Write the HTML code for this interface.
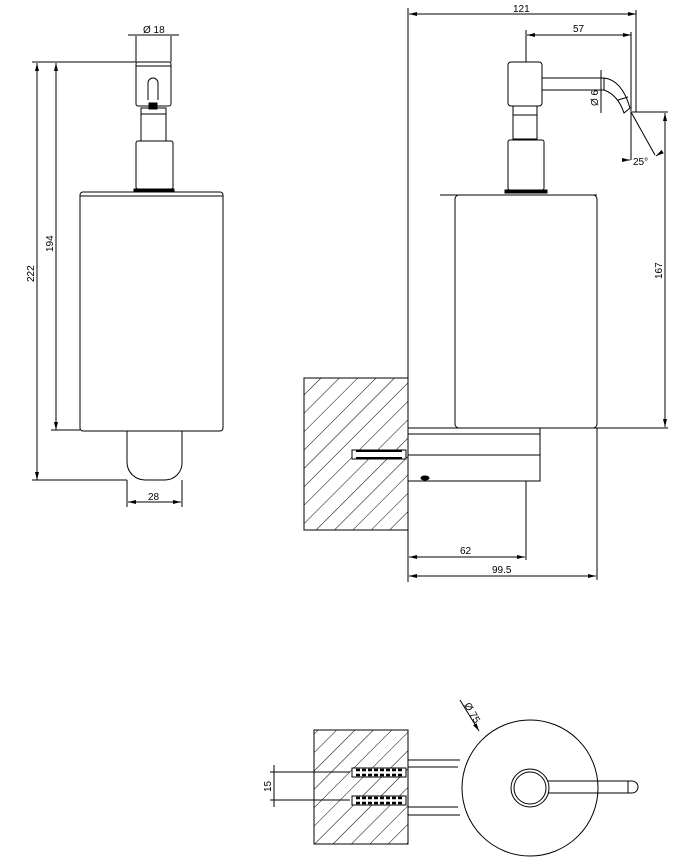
<!DOCTYPE html>
<html><head><style>body{margin:0;background:#fff}svg{display:block}text{font-family:"Liberation Sans",sans-serif;font-size:10px;fill:#000}</style></head><body>
<svg width="686" height="864" viewBox="0 0 686 864" xmlns="http://www.w3.org/2000/svg">
<defs>
<pattern id="h" patternUnits="userSpaceOnUse" width="13" height="13" patternTransform="rotate(45)"><line x1="0" y1="0" x2="0" y2="13" stroke="#000" stroke-width="1"/></pattern>
<marker id="a" markerWidth="8" markerHeight="6" refX="8" refY="3" orient="auto-start-reverse"><path d="M0,1 L8,3 L0,5z" fill="#000"/></marker>
</defs>
<g fill="none" stroke="#000" stroke-width="1">
<!-- LEFT VIEW -->
<rect x="136" y="62" width="35" height="44" rx="2"/>
<line x1="136" y1="66" x2="171" y2="66"/>
<path d="M148,100 V83 a5,5 0 0 1 10,0 V100"/>
<rect x="149" y="103" width="8" height="6" fill="#000"/>
<rect x="141" y="108" width="25" height="33"/>
<line x1="141" y1="114" x2="166" y2="114"/>
<rect x="136" y="141" width="37" height="48" rx="2"/>
<rect x="134" y="189" width="40" height="3" fill="#000"/>
<rect x="80" y="192" width="143" height="239" rx="3"/>
<line x1="80" y1="196" x2="223" y2="196"/>
<path d="M127,431 V462 a18,18 0 0 0 18,18 H165 a17,17 0 0 0 17,-17 V431"/>
<!-- dims left -->
<line x1="136" y1="36" x2="136" y2="62"/><line x1="171" y1="36" x2="171" y2="62"/>
<line x1="128" y1="35" x2="179" y2="35"/>
<line x1="32" y1="62" x2="136" y2="62"/>
<line x1="37" y1="480" x2="37" y2="63" marker-end="url(#a)" marker-start="url(#a)"/>
<line x1="56" y1="430" x2="56" y2="63" marker-end="url(#a)" marker-start="url(#a)"/>
<line x1="32" y1="480" x2="127" y2="480"/>
<line x1="51" y1="430" x2="80" y2="430"/>
<line x1="127" y1="480" x2="127" y2="507"/><line x1="182" y1="480" x2="182" y2="507"/>
<line x1="128" y1="502" x2="181" y2="502" marker-end="url(#a)" marker-start="url(#a)"/>
<!-- RIGHT VIEW -->
<line x1="408" y1="8" x2="408" y2="582"/>
<rect x="304" y="378" width="104" height="152" fill="url(#h)"/>
<rect x="508" y="62" width="34" height="44" rx="3"/>
<rect x="513" y="106" width="24" height="33"/>
<line x1="513" y1="115" x2="537" y2="115"/>
<rect x="508" y="140" width="36" height="50" rx="2"/>
<rect x="505" y="190" width="42" height="3" fill="#000"/>
<line x1="440" y1="195" x2="597" y2="195"/>
<rect x="455" y="195" width="142" height="233" rx="4"/>
<path d="M542,78 H604 Q622,80 630,108 L624,113 Q618,95 604,90 H542"/>
<line x1="604" y1="78" x2="604" y2="90"/>
<line x1="618" y1="100" x2="628" y2="97"/>
<rect x="408" y="428" width="132" height="53"/>
<line x1="408" y1="434" x2="540" y2="434"/>
<line x1="408" y1="455" x2="540" y2="455"/>
<line x1="408" y1="428" x2="668" y2="428"/>
<rect x="352" y="450" width="54" height="9" fill="#fff"/>
<path d="M356,451 h46 M356,458 h46" stroke-width="2"/>
<ellipse cx="425" cy="478" rx="4" ry="2" fill="#000"/>
<line x1="526" y1="481" x2="526" y2="560"/>
<line x1="597" y1="428" x2="597" y2="580"/>
<line x1="409" y1="557" x2="525" y2="557" marker-end="url(#a)" marker-start="url(#a)"/>
<line x1="409" y1="576" x2="596" y2="576" marker-end="url(#a)" marker-start="url(#a)"/>
<line x1="409" y1="14" x2="636" y2="14" marker-end="url(#a)" marker-start="url(#a)"/>
<line x1="636" y1="10" x2="636" y2="112"/>
<line x1="526" y1="30" x2="526" y2="62"/>
<line x1="527" y1="35" x2="631" y2="35" marker-end="url(#a)" marker-start="url(#a)"/>
<line x1="631" y1="32" x2="631" y2="160"/>
<line x1="601" y1="70" x2="601" y2="113"/>
<line x1="632" y1="112" x2="668" y2="112"/>
<line x1="665" y1="113" x2="665" y2="427" marker-end="url(#a)" marker-start="url(#a)"/>
<line x1="631" y1="112" x2="655" y2="155"/>
<line x1="624" y1="160" x2="630" y2="160" marker-end="url(#a)"/>
<line x1="662" y1="152" x2="656" y2="156" marker-end="url(#a)"/>
<!-- BOTTOM VIEW -->
<rect x="314" y="730" width="94" height="114" fill="url(#h)"/>
<line x1="408" y1="760" x2="460" y2="760"/><line x1="408" y1="767" x2="458" y2="767"/>
<line x1="408" y1="807" x2="458" y2="807"/><line x1="408" y1="815" x2="460" y2="815"/>
<rect x="352" y="768" width="54" height="9" fill="#fff"/>
<rect x="352" y="796" width="54" height="9" fill="#fff"/>
<path d="M356,770 h46 M356,775 h46 M356,798 h46 M356,803 h46" stroke-width="2.5" stroke-dasharray="4,2"/>
<circle cx="530" cy="788" r="68" fill="#fff"/>
<circle cx="530" cy="788" r="19"/><circle cx="530" cy="788" r="16"/>
<path d="M548,781 H632 a6,6 0 0 1 0,12 H548"/>
<line x1="628" y1="781" x2="628" y2="793"/>
<line x1="270" y1="772" x2="350" y2="772"/><line x1="270" y1="800" x2="350" y2="800"/>
<line x1="274" y1="765" x2="274" y2="807"/>
<line x1="460" y1="700" x2="479" y2="731" marker-end="url(#a)"/>
</g>
<text x="143" y="33">Ø 18</text>
<text x="148" y="500">28</text>
<text x="34" y="282" transform="rotate(-90 34 282)">222</text>
<text x="53" y="252" transform="rotate(-90 53 252)">194</text>
<text x="513" y="12">121</text>
<text x="573" y="32">57</text>
<text x="598" y="106" transform="rotate(-90 598 106)">Ø 6</text>
<text x="633" y="165">25°</text>
<text x="662" y="279" transform="rotate(-90 662 279)">167</text>
<text x="460" y="554">62</text>
<text x="492" y="573">99.5</text>
<text x="271" y="792" transform="rotate(-90 271 792)">15</text>
<text x="464" y="705" transform="rotate(60 464 705)">Ø 75</text>
</svg>
</body></html>
